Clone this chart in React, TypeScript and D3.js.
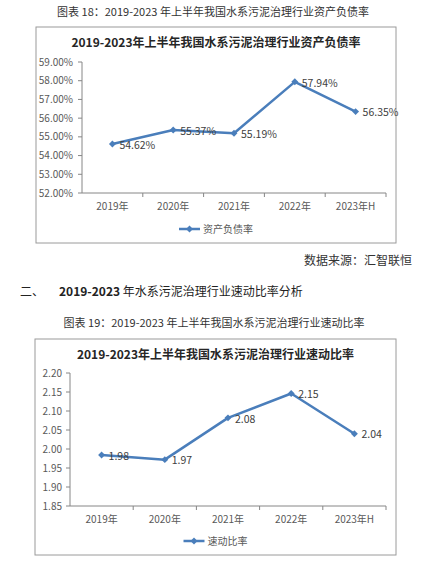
import * as d3 from "d3";

const years = ["2019年", "2020年", "2021年", "2022年", "2023年H"];

const debtRatio = [54.62, 55.37, 55.19, 57.94, 56.35];
const debtTicks = [52, 53, 54, 55, 56, 57, 58, 59];

const quickRatio = [1.984, 1.972, 2.082, 2.146, 2.04];
const quickTicks = [1.85, 1.9, 1.95, 2.0, 2.05, 2.1, 2.15, 2.2];

const FONT = "'Noto Sans CJK SC', 'Noto Sans', sans-serif";
const BLUE = "#4A7EBB";

type ChartProps = {
  frame: { x: number; y: number; w: number; h: number };
  plot: { left: number; right: number; top: number; bottom: number };
  title: string;
  legend: string;
  values: number[];
  ticks: number[];
  tickFmt: (v: number) => string;
  labelFmt: (v: number) => string;
  tickLabelRight: number;
};

function LineChart({ frame, plot, title, legend, values, ticks, tickFmt, labelFmt, tickLabelRight }: ChartProps) {
  const x = d3.scaleBand<string>().domain(years).range([plot.left, plot.right]);
  const y = d3.scaleLinear()
    .domain([ticks[0], ticks[ticks.length - 1]])
    .range([plot.bottom, plot.top]);
  const cx = (d: string) => (x(d) ?? 0) + x.bandwidth() / 2;

  const line = d3.line<number>()
    .x((_, i) => cx(years[i]))
    .y((d) => y(d));

  // square turned 45deg reads like the Excel diamond marker
  const marker = d3.symbol(d3.symbolSquare, 24)() ?? "";
  const mid = frame.x + frame.w / 2;
  const legendY = frame.y + frame.h - 14;
  const legendW = 24 + legend.length * 10;
  const legendX = mid - legendW / 2;

  return (
    <g>
      <rect x={frame.x} y={frame.y} width={frame.w} height={frame.h}
        fill="#fff" stroke="#9a9a9a" strokeWidth={1} />
      <text x={mid} y={frame.y + 20} textAnchor="middle"
        fontSize={12} fontWeight="bold" fill="#262626">{title}</text>

      {/* y axis */}
      <line x1={plot.left} x2={plot.left} y1={plot.top} y2={plot.bottom} stroke="#868686" />
      {ticks.map((t) => (
        <g key={t}>
          <line x1={plot.left - 4} x2={plot.left} y1={y(t)} y2={y(t)} stroke="#868686" />
          <text x={tickLabelRight} y={y(t)} dy="0.35em" textAnchor="end"
            fontSize={10} fill="#595959">{tickFmt(t)}</text>
        </g>
      ))}

      {/* x axis */}
      <line x1={plot.left} x2={plot.right} y1={plot.bottom} y2={plot.bottom} stroke="#868686" />
      {years.map((d) => (
        <g key={d}>
          <line x1={(x(d) ?? 0) + x.bandwidth()} x2={(x(d) ?? 0) + x.bandwidth()}
            y1={plot.bottom} y2={plot.bottom + 4} stroke="#868686" />
          <text x={cx(d)} y={plot.bottom + 17} textAnchor="middle"
            fontSize={10} fill="#595959">{d}</text>
        </g>
      ))}

      <path d={line(values) ?? undefined} fill="none" stroke={BLUE} strokeWidth={2.5}
        strokeLinejoin="round" />
      {values.map((v, i) => (
        <g key={i}>
          <path d={marker} transform={`translate(${cx(years[i])},${y(v)}) rotate(45)`} fill={BLUE} />
          <text x={cx(years[i]) + 7} y={y(v) + 1} dy="0.35em" fontSize={10.5}
            fill="#404040">{labelFmt(v)}</text>
        </g>
      ))}

      {/* legend */}
      <line x1={legendX} x2={legendX + 21} y1={legendY} y2={legendY} stroke={BLUE} strokeWidth={2.5} />
      <path d={marker} transform={`translate(${legendX + 10.5},${legendY}) rotate(45)`} fill={BLUE} />
      <text x={legendX + 24} y={legendY} dy="0.35em" fontSize={10} fill="#595959">{legend}</text>
    </g>
  );
}

export default function App() {
  return (
    <svg width={424} height={566} style={{ position: "absolute", left: 0, top: 0, fontFamily: FONT }}>
      <rect width={424} height={566} fill="#fff" />
      <text x={213} y={16} textAnchor="middle" fontSize={11} fill="#333">
        图表 18：2019-2023 年上半年我国水系污泥治理行业资产负债率
      </text>

      <LineChart
        frame={{ x: 36, y: 27, w: 360, h: 216 }}
        plot={{ left: 82, right: 386, top: 62, bottom: 193 }}
        title="2019-2023年上半年我国水系污泥治理行业资产负债率"
        legend="资产负债率"
        values={debtRatio}
        ticks={debtTicks}
        tickFmt={(v) => v.toFixed(2) + "%"}
        labelFmt={(v) => v.toFixed(2) + "%"}
        tickLabelRight={73}
      />

      <text x={412} y={265} textAnchor="end" fontSize={12} fill="#333">数据来源：汇智联恒</text>

      <text x={20} y={296} fontSize={12} fill="#222">二、</text>
      <text x={59} y={296} fontSize={12} fill="#222">
        <tspan fontWeight="bold">2019-2023</tspan> 年水系污泥治理行业速动比率分析
      </text>

      <text x={214} y={327} textAnchor="middle" fontSize={11} fill="#333">
        图表 19：2019-2023 年上半年我国水系污泥治理行业速动比率
      </text>

      <LineChart
        frame={{ x: 35, y: 339, w: 361, h: 216 }}
        plot={{ left: 70, right: 386, top: 373, bottom: 506 }}
        title="2019-2023年上半年我国水系污泥治理行业速动比率"
        legend="速动比率"
        values={quickRatio}
        ticks={quickTicks}
        tickFmt={(v) => v.toFixed(2)}
        labelFmt={(v) => v.toFixed(2)}
        tickLabelRight={62}
      />
    </svg>
  );
}
